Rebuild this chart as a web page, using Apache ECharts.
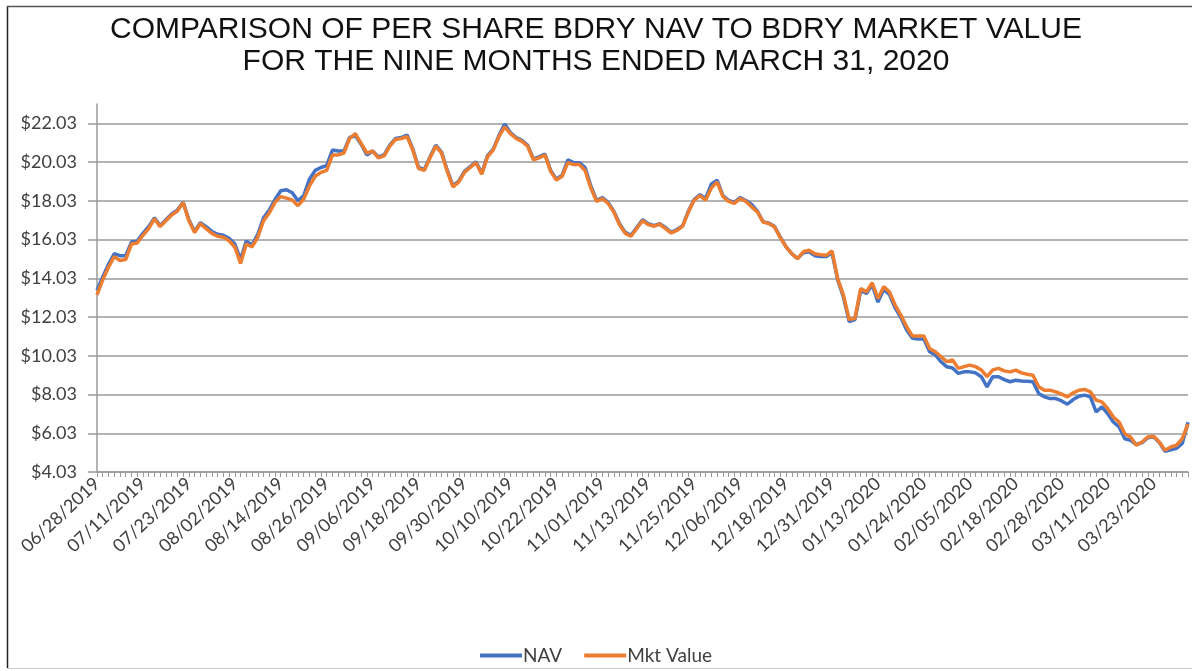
<!DOCTYPE html>
<html>
<head>
<meta charset="utf-8">
<title>BDRY NAV vs Market Value</title>
<script src="https://cdn.jsdelivr.net/npm/echarts@6/dist/echarts.min.js"></script>
<style>
  html, body { margin: 0; padding: 0; background: #fff; }
  #chart { width: 1192px; height: 671px; }
</style>
</head>
<body>
<div id="chart"></div>
<script>
// trading days per month (holidays already left out)
const tradingDays = [
  ['06', '2019', [28]],
  ['07', '2019', [1, 2, 3, 5, 8, 9, 10, 11, 12, 15, 16, 17, 18, 19, 22, 23, 24, 25, 26, 29, 30, 31]],
  ['08', '2019', [1, 2, 5, 6, 7, 8, 9, 12, 13, 14, 15, 16, 19, 20, 21, 22, 23, 26, 27, 28, 29, 30]],
  ['09', '2019', [3, 4, 5, 6, 9, 10, 11, 12, 13, 16, 17, 18, 19, 20, 23, 24, 25, 26, 27, 30]],
  ['10', '2019', [1, 2, 3, 4, 7, 8, 9, 10, 11, 14, 15, 16, 17, 18, 21, 22, 23, 24, 25, 28, 29, 30, 31]],
  ['11', '2019', [1, 4, 5, 6, 7, 8, 11, 12, 13, 14, 15, 18, 19, 20, 21, 22, 25, 26, 27, 29]],
  ['12', '2019', [2, 3, 4, 5, 6, 9, 10, 11, 12, 13, 16, 17, 18, 19, 20, 23, 24, 26, 27, 30, 31]],
  ['01', '2020', [2, 3, 6, 7, 8, 9, 10, 13, 14, 15, 16, 17, 21, 22, 23, 24, 27, 28, 29, 30, 31]],
  ['02', '2020', [3, 4, 5, 6, 7, 10, 11, 12, 13, 14, 18, 19, 20, 21, 24, 25, 26, 27, 28]],
  ['03', '2020', [2, 3, 4, 5, 6, 9, 10, 11, 12, 13, 16, 17, 18, 19, 20, 23, 24, 25, 26, 27, 30, 31]]
]

const navValues = [
  13.4, 14.1, 14.75, 15.3, 15.2, 15.2, 15.9, 15.95, 16.35, 16.7,
  17.15, 16.75, 17.05, 17.35, 17.55, 17.95, 17.05, 16.45, 16.9, 16.7,
  16.45, 16.3, 16.25, 16.1, 15.8, 15.0, 15.95, 15.75, 16.3, 17.15,
  17.55, 18.1, 18.55, 18.6, 18.45, 18.03, 18.3, 19.15, 19.6, 19.75,
  19.85, 20.65, 20.6, 20.6, 21.3, 21.4, 20.95, 20.4, 20.6, 20.3,
  20.4, 20.9, 21.25, 21.3, 21.43, 20.7, 19.75, 19.65, 20.3, 20.9,
  20.55, 19.6, 18.8, 19.05, 19.55, 19.8, 20.05, 19.45, 20.35, 20.7,
  21.4, 22.0, 21.55, 21.3, 21.15, 20.9, 20.2, 20.3, 20.45, 19.6,
  19.15, 19.35, 20.15, 20.0, 20.0, 19.75, 18.8, 18.05, 18.2, 17.95,
  17.5, 16.85, 16.4, 16.25, 16.65, 17.05, 16.85, 16.75, 16.85, 16.65,
  16.4, 16.55, 16.75, 17.5, 18.1, 18.35, 18.15, 18.9, 19.1, 18.3,
  18.05, 17.95, 18.2, 18.05, 17.85, 17.5, 16.95, 16.88, 16.7, 16.15,
  15.65, 15.3, 15.05, 15.35, 15.4, 15.2, 15.15, 15.15, 15.35, 13.95,
  13.05, 11.8, 11.9, 13.4, 13.25, 13.7, 12.8, 13.45, 13.2, 12.5,
  12.0, 11.36, 10.93, 10.9, 10.9, 10.24, 10.08, 9.72, 9.46, 9.4,
  9.12, 9.2, 9.2, 9.15, 8.95, 8.43, 8.95, 8.95, 8.8, 8.69,
  8.77, 8.73, 8.72, 8.69, 8.08, 7.91, 7.82, 7.82, 7.7, 7.53,
  7.77, 7.94, 8.0, 7.91, 7.13, 7.39, 7.05, 6.61, 6.36, 5.75,
  5.67, 5.45, 5.55, 5.8, 5.85, 5.55, 5.1, 5.18, 5.25, 5.5,
  6.6
]

const mktValues = [
  13.17, 13.95, 14.6, 15.15, 14.95, 15.0, 15.8, 15.85, 16.25, 16.6,
  17.1, 16.7, 17.0, 17.3, 17.5, 17.95, 17.0, 16.4, 16.85, 16.6,
  16.35, 16.2, 16.15, 15.97, 15.65, 14.8, 15.8, 15.65, 16.15, 17.0,
  17.4, 17.95, 18.25, 18.17, 18.07, 17.78, 18.12, 18.8, 19.3, 19.5,
  19.6, 20.4, 20.4, 20.5, 21.25, 21.5, 21.0, 20.5, 20.6, 20.25,
  20.35, 20.85, 21.2, 21.25, 21.35, 20.65, 19.7, 19.6, 20.25, 20.85,
  20.5, 19.55, 18.75, 19.0, 19.5, 19.75, 20.0, 19.4, 20.3, 20.65,
  21.35, 21.85, 21.5, 21.25, 21.1, 20.85, 20.15, 20.25, 20.4, 19.55,
  19.1, 19.3, 20.0, 19.9, 19.9, 19.6, 18.7, 18.0, 18.15, 17.9,
  17.45, 16.8, 16.35, 16.2, 16.6, 17.0, 16.8, 16.72, 16.82, 16.6,
  16.37, 16.5, 16.72, 17.46, 18.06, 18.3, 18.06, 18.7, 19.0, 18.25,
  18.0, 17.9, 18.15, 18.0, 17.72, 17.46, 16.94, 16.86, 16.68, 16.13,
  15.65, 15.3, 15.05, 15.4, 15.48, 15.3, 15.25, 15.22, 15.45, 14.0,
  13.16, 11.9, 11.96, 13.5, 13.33, 13.8, 12.99, 13.6, 13.33, 12.65,
  12.13, 11.53, 11.05, 11.05, 11.05, 10.41, 10.24, 9.98, 9.73, 9.81,
  9.38, 9.47, 9.55, 9.47, 9.3, 8.95, 9.3, 9.38, 9.25, 9.2,
  9.29, 9.15, 9.08, 9.03, 8.43, 8.25, 8.25, 8.17, 8.05, 7.91,
  8.12, 8.25, 8.29, 8.17, 7.74, 7.65, 7.31, 6.87, 6.61, 6.01,
  5.84, 5.41, 5.58, 5.84, 5.88, 5.58, 5.15, 5.32, 5.41, 5.75,
  6.5
]

const titleLines = [
  'COMPARISON OF PER SHARE BDRY NAV TO BDRY MARKET VALUE',
  'FOR THE NINE MONTHS ENDED MARCH 31, 2020'
]
const seriesNames = ['NAV', 'Mkt Value']

const dates = []
tradingDays.forEach(([mm, yyyy, days]) => {
  days.forEach(d => dates.push(mm + '/' + String(d).padStart(2, '0') + '/' + yyyy))
})

const chart = echarts.init(document.getElementById('chart'), null, { renderer: 'canvas' })

const textColor = '#404040'
const gridColor = '#9a9a9a'

chart.setOption({
  backgroundColor: '#fff',
  animation: false,
  title: {
    text: titleLines.join('\n'),
    left: 'center',
    top: 9,
    textStyle: {
      fontFamily: 'Liberation Sans',
      fontSize: 30,
      fontWeight: 'normal',
      color: '#111',
      lineHeight: 32
    }
  },
  legend: {
    data: seriesNames,
    bottom: 1,
    left: 'center',
    icon: 'rect',
    itemWidth: 42,
    itemHeight: 4,
    itemGap: 22,
    textStyle: { fontFamily: 'Lato', fontSize: 19, color: textColor, padding: [0, 0, 0, -4] }
  },
  grid: { left: 97, right: 4, top: 104, bottom: 199 },
  xAxis: {
    type: 'category',
    data: dates,
    boundaryGap: false,
    axisLine: { lineStyle: { color: gridColor, width: 1.5 } },
    axisTick: { interval: 0, length: 5, lineStyle: { color: gridColor } },
    axisLabel: {
      interval: 7,
      rotate: 43,
      margin: 9,
      fontFamily: 'Lato',
      fontSize: 18,
      color: textColor
    },
    splitLine: { show: false }
  },
  yAxis: {
    type: 'value',
    min: 4.03,
    max: 23.03,
    interval: 2,
    axisLine: { show: true, lineStyle: { color: gridColor, width: 1.5 } },
    axisTick: { show: true, length: 9, lineStyle: { color: gridColor, width: 1.5 } },
    axisLabel: {
      showMaxLabel: false,
      margin: 20,
      fontFamily: 'Lato',
      fontSize: 18,
      color: textColor,
      formatter: v => '$' + v.toFixed(2)
    },
    splitLine: { showMaxLine: false, lineStyle: { color: gridColor, width: 1.5 } }
  },
  series: [
    {
      name: seriesNames[0],
      type: 'line',
      data: navValues,
      symbol: 'none',
      color: '#4472C4',
      lineStyle: { width: 3.5, color: '#4472C4' }
    },
    {
      name: seriesNames[1],
      type: 'line',
      data: mktValues,
      symbol: 'none',
      color: '#ED7D31',
      lineStyle: { width: 3.5, color: '#ED7D31' }
    }
  ],
  graphic: [
    { type: 'line', shape: { x1: 7.5, y1: 6, x2: 7.5, y2: 668 }, style: { stroke: '#222', lineWidth: 1.5 } },
    { type: 'line', shape: { x1: 7, y1: 6.5, x2: 1192, y2: 6.5 }, style: { stroke: '#555', lineWidth: 1.5 } },
    { type: 'line', shape: { x1: 7, y1: 668.5, x2: 1192, y2: 668.5 }, style: { stroke: '#ccc', lineWidth: 1 } }
  ]
})
</script>
</body>
</html>
